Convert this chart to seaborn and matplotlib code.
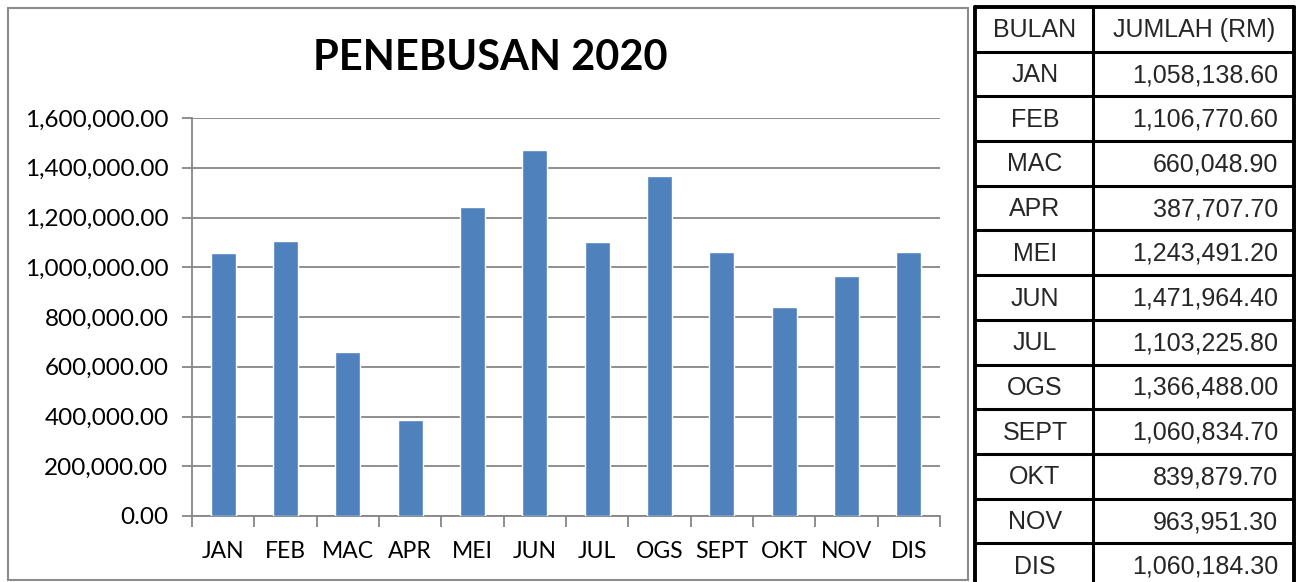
import numpy as np
import pandas as pd
import matplotlib
matplotlib.use("Agg")
import matplotlib.pyplot as plt
from matplotlib.patches import Rectangle
from matplotlib.ticker import FuncFormatter, FixedLocator
import seaborn as sns

months = ["JAN", "FEB", "MAC", "APR", "MEI", "JUN", "JUL", "OGS", "SEPT", "OKT", "NOV", "DIS"]
amounts = [1058138.60, 1106770.60, 660048.90, 387707.70, 1243491.20, 1471964.40,
           1103225.80, 1366488.00, 1060834.70, 839879.70, 963951.30, 1060184.30]
title = "PENEBUSAN 2020"
table_header = ["BULAN", "JUMLAH (RM)"]
y_ticks = [0, 200000, 400000, 600000, 800000, 1000000, 1200000, 1400000, 1600000]

sns.set_theme(style="white")
plt.rcParams['font.family'] = ['Lato', 'DejaVu Sans']

W, H = 1297, 582
fig = plt.figure(figsize=(W / 100, H / 100), dpi=100)
fig.patch.set_facecolor("white")

def fx(px):
    return px / W

def fy(py):
    return 1 - py / H

# chart frame
fig.patches.append(Rectangle((fx(8), fy(580)), fx(968) - fx(8), fy(8) - fy(580),
                             transform=fig.transFigure, fill=False,
                             edgecolor="#8c8c8c", linewidth=1.5, zorder=0))

ax = fig.add_axes([fx(192), fy(516), fx(940) - fx(192), fy(118) - fy(516)])
df = pd.DataFrame({"Bulan": months, "Jumlah": amounts})
sns.barplot(data=df, x="Bulan", y="Jumlah", color="#4F81BD", saturation=1,
            width=0.4, ax=ax, zorder=3)
ax.set_xlim(-0.5, len(months) - 0.5)
ax.set_ylim(0, 1600000)
ax.yaxis.set_major_locator(FixedLocator(y_ticks))
ax.yaxis.set_major_formatter(FuncFormatter(lambda v, p: f"{v:,.2f}"))
ax.grid(axis="y", color="#868686", linewidth=1.3, zorder=0)
ax.set_axisbelow(True)
ax.set_xlabel("")
ax.set_ylabel("")
for s in ["top", "right"]:
    ax.spines[s].set_visible(False)
for s in ["left", "bottom"]:
    ax.spines[s].set_color("#868686")
    ax.spines[s].set_linewidth(1.3)
ax.tick_params(axis="y", which="major", length=7, width=1.3, color="#868686",
               labelsize=17.5, pad=10, labelcolor="black", left=True)
ax.tick_params(axis="x", which="major", length=0, labelsize=16.5, pad=18, labelcolor="black")
ax.set_xticks(np.arange(len(months)))
ax.set_xticklabels(months)
ax.set_xticks(np.arange(len(months) + 1) - 0.5, minor=True)
ax.tick_params(axis="x", which="minor", length=8, width=1.3, color="#868686", bottom=True)

fig.text(fx(490), fy(58), title, ha="center", va="center", fontsize=30,
         fontweight="bold", color="black")

# table
tab_left, tab_div, tab_right = 975, 1093, 1294
row_h = 44.7
top = 7
n_rows = len(months) + 1
tfont = ['Liberation Sans', 'DejaVu Sans']
tsize = 18
lw = 2.2
for i in range(n_rows + 1):
    y = top + i * row_h
    fig.add_artist(plt.Line2D([fx(tab_left), fx(tab_right)], [fy(y), fy(y)],
                              color="black", linewidth=lw if 0 < i < n_rows else 2.8))
for x in [tab_left, tab_div, tab_right]:
    fig.add_artist(plt.Line2D([fx(x), fx(x)], [fy(top), fy(top + n_rows * row_h)],
                              color="black", linewidth=2.8 if x != tab_div else lw))

fig.text(fx(1035), fy(top + row_h / 2 + 1), table_header[0],
         ha="center", va="center", fontsize=tsize, family=tfont)
fig.text(fx(1194), fy(top + row_h / 2 + 1), table_header[1],
         ha="center", va="center", fontsize=tsize, family=tfont)
for i, (m, a) in enumerate(zip(months, amounts)):
    yc = top + (i + 1.5) * row_h + 1
    fig.text(fx(1035), fy(yc), m, ha="center", va="center",
             fontsize=tsize, family=tfont)
    fig.text(fx(1278), fy(yc), f"{a:,.2f}", ha="right", va="center",
             fontsize=tsize, family=tfont)

fig.savefig("out.png", dpi=100)
